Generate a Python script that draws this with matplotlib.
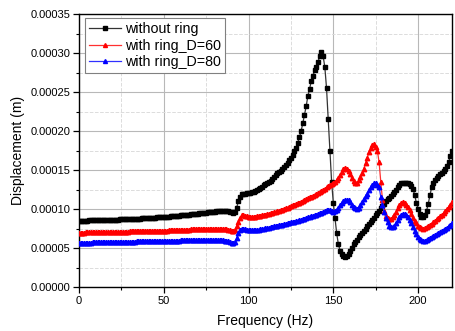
import numpy as np
import matplotlib
matplotlib.use("Agg")
import matplotlib.pyplot as plt
from matplotlib.ticker import MultipleLocator, FuncFormatter

plt.rcParams['font.family'] = ['Liberation Sans', 'DejaVu Sans']

# Frequency (Hz), 1 Hz steps
freq = list(range(0, 221))

# Displacement values in units of 1e-5 m
without_ring = [
    8.50, 8.51, 8.52, 8.53, 8.54, 8.55, 8.56, 8.57, 8.58, 8.59,
    8.60, 8.60, 8.61, 8.61, 8.62, 8.62, 8.63, 8.63, 8.64, 8.64,
    8.65, 8.66, 8.67, 8.68, 8.69, 8.70, 8.71, 8.72, 8.73, 8.74,
    8.75, 8.76, 8.77, 8.78, 8.79, 8.80, 8.81, 8.82, 8.83, 8.84,
    8.85, 8.86, 8.88, 8.89, 8.91, 8.92, 8.94, 8.95, 8.97, 8.98,
    9.00, 9.02, 9.04, 9.06, 9.08, 9.10, 9.12, 9.14, 9.16, 9.18,
    9.20, 9.22, 9.25, 9.27, 9.30, 9.32, 9.35, 9.37, 9.40, 9.42,
    9.45, 9.47, 9.50, 9.52, 9.55, 9.57, 9.60, 9.62, 9.65, 9.67,
    9.70, 9.72, 9.74, 9.76, 9.78, 9.80, 9.80, 9.79, 9.75, 9.68,
    9.60, 9.55, 9.60, 10.2, 11.0, 11.6, 11.9, 12.0, 12.0, 12.05,
    12.1, 12.13, 12.16, 12.2, 12.3, 12.45, 12.6, 12.75, 12.9, 13.05,
    13.2, 13.35, 13.5, 13.6, 13.85, 14.1, 14.35, 14.6, 14.8, 14.85,
    15.1, 15.35, 15.6, 15.9, 16.3, 16.6, 17.0, 17.4, 17.9, 18.5,
    19.2, 20.0, 21.0, 22.1, 23.2, 24.5, 25.4, 26.4, 27.1, 27.8,
    28.2, 28.9, 29.6, 30.1, 29.6, 28.2, 25.5, 21.5, 17.5, 13.5,
    10.8, 8.9, 6.9, 5.5, 4.7, 4.25, 4.0, 3.9, 4.05, 4.3,
    4.6, 5.05, 5.5, 5.8, 6.1, 6.4, 6.7, 6.95, 7.25, 7.5,
    7.8, 8.1, 8.35, 8.65, 8.9, 9.2, 9.5, 9.8, 10.1, 10.4,
    10.7, 11.0, 11.25, 11.5, 11.75, 12.0, 12.25, 12.5, 12.8, 13.05,
    13.3, 13.35, 13.4, 13.4, 13.35, 13.25, 13.0, 12.6, 11.8, 10.8,
    10.0, 9.4, 9.0, 9.0, 9.3, 9.8, 10.7, 11.8, 12.8, 13.4,
    13.8, 14.05, 14.3, 14.5, 14.7, 14.9, 15.1, 15.5, 16.0, 16.8, 17.5,
]

ring_d60 = [
    7.00, 7.00, 7.01, 7.01, 7.02, 7.02, 7.03, 7.03, 7.04, 7.04,
    7.05, 7.05, 7.06, 7.06, 7.07, 7.07, 7.08, 7.08, 7.09, 7.09,
    7.10, 7.10, 7.11, 7.11, 7.12, 7.12, 7.13, 7.13, 7.14, 7.14,
    7.15, 7.15, 7.16, 7.16, 7.17, 7.17, 7.18, 7.18, 7.19, 7.19,
    7.20, 7.20, 7.21, 7.21, 7.22, 7.22, 7.23, 7.23, 7.24, 7.24,
    7.25, 7.26, 7.27, 7.28, 7.29, 7.30, 7.31, 7.32, 7.33, 7.34,
    7.35, 7.36, 7.37, 7.38, 7.39, 7.40, 7.41, 7.42, 7.43, 7.44,
    7.45, 7.46, 7.46, 7.47, 7.47, 7.48, 7.48, 7.49, 7.49, 7.50,
    7.50, 7.50, 7.50, 7.50, 7.50, 7.50, 7.48, 7.45, 7.40, 7.33,
    7.25, 7.20, 7.30, 7.80, 8.40, 8.90, 9.20, 9.20, 9.15, 9.10,
    9.05, 9.02, 9.00, 9.00, 9.05, 9.10, 9.14, 9.18, 9.22, 9.26,
    9.30, 9.36, 9.42, 9.48, 9.54, 9.60, 9.67, 9.74, 9.81, 9.88,
    9.95, 10.04, 10.13, 10.22, 10.31, 10.40, 10.49, 10.58, 10.67, 10.76,
    10.85, 10.96, 11.07, 11.18, 11.29, 11.40, 11.51, 11.62, 11.73, 11.84,
    11.95, 12.07, 12.19, 12.30, 12.45, 12.62, 12.80, 12.95, 13.10, 13.20,
    13.30, 13.48, 13.70, 14.00, 14.40, 14.80, 15.10, 15.30, 15.20, 14.90,
    14.50, 14.00, 13.60, 13.40, 13.40, 13.70, 14.10, 14.60, 15.20, 15.90,
    16.60, 17.30, 17.90, 18.20, 18.30, 18.00, 17.50, 16.00, 13.50, 11.20,
    9.80, 9.10, 8.90, 8.80, 8.80, 9.00, 9.30, 9.70, 10.10, 10.50,
    10.80, 10.90, 10.85, 10.60, 10.30, 9.90, 9.40, 8.90, 8.50, 8.20,
    7.90, 7.70, 7.55, 7.50, 7.55, 7.70, 7.85, 8.00, 8.15, 8.30,
    8.50, 8.70, 8.90, 9.10, 9.30, 9.50, 9.75, 10.00, 10.30, 10.60, 10.90,
]

ring_d80 = [
    5.70, 5.70, 5.71, 5.71, 5.72, 5.72, 5.73, 5.73, 5.74, 5.74,
    5.75, 5.75, 5.76, 5.76, 5.77, 5.77, 5.78, 5.78, 5.79, 5.79,
    5.80, 5.80, 5.81, 5.81, 5.82, 5.82, 5.83, 5.83, 5.84, 5.84,
    5.85, 5.85, 5.86, 5.86, 5.87, 5.87, 5.88, 5.88, 5.89, 5.89,
    5.90, 5.90, 5.91, 5.91, 5.92, 5.92, 5.93, 5.93, 5.94, 5.94,
    5.95, 5.95, 5.96, 5.96, 5.97, 5.97, 5.98, 5.98, 5.99, 5.99,
    6.00, 6.00, 6.01, 6.01, 6.02, 6.02, 6.03, 6.03, 6.04, 6.04,
    6.05, 6.05, 6.05, 6.05, 6.05, 6.05, 6.05, 6.05, 6.05, 6.05,
    6.05, 6.05, 6.04, 6.03, 6.02, 6.00, 5.97, 5.93, 5.87, 5.78,
    5.70, 5.65, 5.75, 6.30, 6.90, 7.30, 7.50, 7.50, 7.45, 7.40,
    7.35, 7.32, 7.30, 7.30, 7.32, 7.35, 7.39, 7.43, 7.47, 7.51,
    7.55, 7.60, 7.65, 7.70, 7.75, 7.80, 7.84, 7.88, 7.92, 7.96,
    8.00, 8.06, 8.12, 8.18, 8.24, 8.30, 8.36, 8.42, 8.48, 8.54,
    8.60, 8.67, 8.74, 8.81, 8.88, 8.95, 9.02, 9.09, 9.16, 9.23,
    9.30, 9.38, 9.46, 9.55, 9.65, 9.75, 9.85, 9.90, 9.85, 9.75,
    9.70, 9.75, 9.90, 10.20, 10.50, 10.80, 11.00, 11.15, 11.20, 11.15,
    10.90, 10.60, 10.30, 10.10, 10.05, 10.20, 10.50, 10.90, 11.30, 11.70,
    12.00, 12.40, 12.80, 13.10, 13.30, 13.30, 13.10, 12.80, 11.60, 10.60,
    9.60, 8.90, 8.30, 7.90, 7.75, 7.75, 7.90, 8.20, 8.60, 9.00,
    9.30, 9.45, 9.45, 9.30, 9.00, 8.60, 8.20, 7.70, 7.20, 6.80,
    6.50, 6.20, 6.05, 5.95, 5.95, 6.05, 6.15, 6.30, 6.40, 6.52,
    6.65, 6.78, 6.91, 7.05, 7.20, 7.35, 7.50, 7.65, 7.80, 8.00, 8.20,
]

labels = ["without ring", "with ring_D=60", "with ring_D=80"]
unit = 1e-5

fig = plt.figure(figsize=(4.55, 3.31), dpi=100)
ax = fig.add_axes([0.1736, 0.132, 0.8198, 0.8257])

f = np.array(freq)
ax.plot(f, np.array(without_ring) * unit, color='#333333', lw=0.9, marker='s',
        ms=2.9, mec='black', mfc='black', label=labels[0], zorder=3)
ax.plot(f, np.array(ring_d60) * unit, color='#ff3030', lw=0.9, marker='^',
        ms=3.2, mec='red', mfc='red', label=labels[1], zorder=3)
ax.plot(f, np.array(ring_d80) * unit, color='#3030ff', lw=0.9, marker='^',
        ms=3.2, mec='blue', mfc='blue', label=labels[2], zorder=3)

ax.set_xlim(0, 220)
ax.set_ylim(0, 0.00035)
ax.xaxis.set_major_locator(MultipleLocator(50))
ax.xaxis.set_minor_locator(MultipleLocator(25))
ax.yaxis.set_major_locator(MultipleLocator(0.00005))
ax.yaxis.set_minor_locator(MultipleLocator(0.000025))
ax.yaxis.set_major_formatter(FuncFormatter(lambda v, p: f"{v:.5f}"))

ax.grid(which='major', color='#b8b8b8', lw=0.8, ls='-')
ax.grid(which='minor', color='#dcdcdc', lw=0.7, ls='--')
ax.set_axisbelow(True)

ax.tick_params(which='major', direction='out', length=4, width=0.9,
               labelsize=8, top=False, right=False, pad=2)
ax.tick_params(which='minor', direction='out', length=2, width=0.8,
               top=False, right=False)
for s in ax.spines.values():
    s.set_linewidth(1.0)

ax.set_xlabel("Frequency (Hz)", fontsize=10, labelpad=6)
ax.set_ylabel("Displacement (m)", fontsize=10, labelpad=4)

leg = ax.legend(loc='upper left', bbox_to_anchor=(0.016, 0.985), borderaxespad=0,
                fontsize=10.3, frameon=True, fancybox=False, edgecolor='#808080',
                framealpha=1, handlelength=2.2, labelspacing=0.15,
                borderpad=0.3, handletextpad=0.3, markerscale=0.9)
leg.get_frame().set_linewidth(0.8)

fig.savefig("out.png", dpi=100)
